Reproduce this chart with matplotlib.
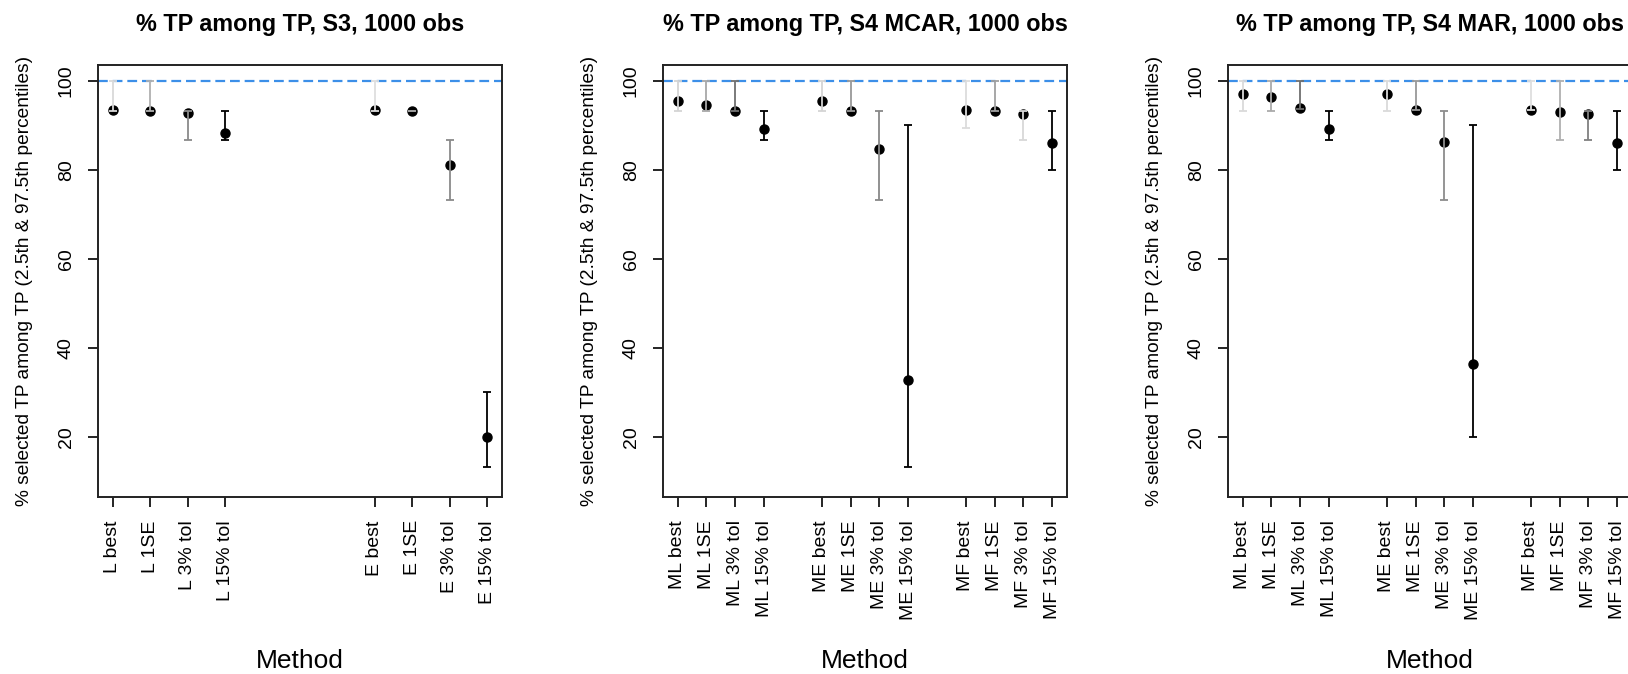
import numpy as np
import matplotlib
matplotlib.use("Agg")
import matplotlib.pyplot as plt

plt.rcParams['font.family'] = ['Liberation Sans', 'DejaVu Sans']

# panel 1: S3
labels1 = ["L best", "L 1SE", "L 3% tol", "L 15% tol",
           "E best", "E 1SE", "E 3% tol", "E 15% tol"]
pos1 = [1, 2, 3, 4, 8, 9, 10, 11]
mean1 = [93.5, 93.2, 92.7, 88.4, 93.5, 93.2, 81.1, 20.0]
lo1 = [93.3, 93.3, 86.7, 86.7, 93.3, 93.3, 73.3, 13.3]
hi1 = [100, 100, 93.3, 93.3, 100, 93.3, 86.7, 30.0]
cols1 = ['#d9d9d9', '#b0b0b0', '#8a8a8a', 'black',
         '#dedede', '#a0a0a0', '#8a8a8a', 'black']

# panel 2: S4 MCAR
labels2 = ["ML best", "ML 1SE", "ML 3% tol", "ML 15% tol",
           "ME best", "ME 1SE", "ME 3% tol", "ME 15% tol",
           "MF best", "MF 1SE", "MF 3% tol", "MF 15% tol"]
pos2 = [1, 2, 3, 4, 6, 7, 8, 9, 11, 12, 13, 14]
mean2 = [95.5, 94.7, 93.2, 89.2, 95.5, 93.2, 84.8, 32.7, 93.5, 93.2, 92.6, 86.0]
lo2 = [93.3, 93.3, 93.3, 86.7, 93.3, 93.3, 73.3, 13.3, 89.5, 93.3, 86.7, 80.0]
hi2 = [100, 100, 100, 93.3, 100, 100, 93.3, 90.0, 100, 100, 93.3, 93.3]
cols2 = ['#d4d4d4', '#a8a8a8', '#707070', 'black',
         '#d4d4d4', '#999999', '#888888', 'black',
         '#dcdcdc', '#a0a0a0', '#d8d8d8', 'black']

# panel 3: S4 MAR
labels3 = labels2
pos3 = pos2
mean3 = [97.1, 96.3, 94.0, 89.2, 97.1, 93.5, 86.3, 36.3, 93.5, 93.1, 92.6, 86.0]
lo3 = [93.3, 93.3, 93.8, 86.7, 93.3, 93.5, 73.3, 20.0, 93.5, 86.7, 86.7, 80.0]
hi3 = [100, 100, 100, 93.3, 100, 100, 93.3, 90.0, 100, 100, 93.3, 93.3]
cols3 = ['#dadada', '#aaaaaa', '#6e6e6e', 'black',
         '#dadada', '#999999', '#8c8c8c', 'black',
         '#dedede', '#b0b0b0', '#808080', 'black']

titles = ["% TP among TP, S3, 1000 obs",
          "% TP among TP, S4 MCAR, 1000 obs",
          "% TP among TP, S4 MAR, 1000 obs"]

W, H = 1628, 674
fig = plt.figure(figsize=(W / 100, H / 100), dpi=100)

panels = [(pos1, mean1, lo1, hi1, cols1, labels1),
          (pos2, mean2, lo2, hi2, cols2, labels2),
          (pos3, mean3, lo3, hi3, cols3, labels3)]

ax_w = 404.5
ax_top, ax_bot = 65, 497.3
for k, (pos, mean, lo, hi, cols, labs) in enumerate(panels):
    left = 97.7 + 565 * k
    ax = fig.add_axes([left / W, (H - ax_bot) / H, ax_w / W, (ax_bot - ax_top) / H])

    ax.axhline(100, color='#3c8fe8', lw=1.6, dashes=(4.4, 2.2), zorder=1)
    ax.plot(pos, mean, 'o', color='black', ms=6.5, zorder=2)
    for x, l, h, c in zip(pos, lo, hi, cols):
        ax.errorbar(x, l, yerr=[[0], [h - l]], fmt='none', ecolor=c,
                    elinewidth=1.3, capsize=2.6, capthick=1.3, zorder=3)

    span = max(pos) - min(pos)
    ax.set_xlim(min(pos) - 0.04 * span, max(pos) + 0.04 * span)
    ax.set_ylim(6.4, 103.6)
    ax.tick_params(direction='out', length=7.5, width=1.2, pad=9, labelsize=14)
    ax.set_xticks(pos)
    ax.set_xticklabels(labs, rotation=90, fontsize=14)
    ax.set_yticks([20, 40, 60, 80, 100])
    ax.set_yticklabels(['20', '40', '60', '80', '100'], rotation=90,
                       va='center', fontsize=14)
    for s in ax.spines.values():
        s.set_linewidth(1.4)
        s.set_color('#222222')

    ax.set_title(titles[k], fontsize=16.8, fontweight='bold', pad=24.5)
    ax.set_xlabel('Method', fontsize=19)
    ax.xaxis.set_label_coords(0.5, -0.352)
    ax.set_ylabel('% selected TP among TP (2.5th & 97.5th percentiles)', fontsize=13.8)
    ax.yaxis.set_label_coords(-65 / ax_w, 0.5)

fig.savefig('out.png', dpi=100)
